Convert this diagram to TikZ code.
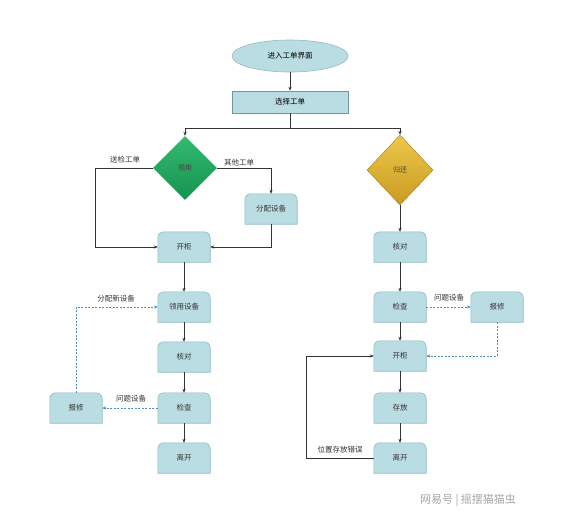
\documentclass[tikz,border=0pt]{standalone}
\usepackage{fontspec}
\setmainfont{Noto Sans CJK SC}
\usetikzlibrary{shapes.geometric,arrows.meta,backgrounds}
\definecolor{boxfill}{HTML}{B9DDE2}
\definecolor{boxline}{HTML}{8DBCC4}
\definecolor{dashc}{HTML}{4B8FC6}
\definecolor{lineC}{HTML}{333333}
\definecolor{gtop}{HTML}{33BB70}
\definecolor{gbot}{HTML}{15934F}
\definecolor{ytop}{HTML}{EDC74A}
\definecolor{ybot}{HTML}{C99A22}
\tikzset{
  tboxn/.style={minimum width=52pt,minimum height=30pt,inner sep=0pt,font=\fontsize{7.5}{9}\selectfont,text=black!80},
  boxshape/.style={fill=boxfill,draw=boxline,line width=0.6pt},
  arr/.style={draw=lineC,line width=0.7pt,-{Stealth[length=4pt,width=3.2pt]}},
  darr/.style={draw=dashc,line width=0.7pt,dash pattern=on 2pt off 1.5pt,-{Stealth[length=4pt,width=3.2pt]}},
  lbl/.style={font=\fontsize{7.5}{9}\selectfont,text=black!80,inner sep=1pt},
  dia/.style={diamond,aspect=1,inner sep=0pt,font=\fontsize{7}{8}\selectfont,text=black!75}
}
\begin{document}
\begin{tikzpicture}[x=1pt,y=-1pt]
\useasboundingbox (0,0) rectangle (580,523);
% top
\node[ellipse,minimum width=116pt,minimum height=32pt,fill=boxfill,draw=boxline,line width=0.6pt,font=\fontsize{7.5}{9}\selectfont] (start) at (290,56) {进入工单界面};
\node[minimum width=116pt,minimum height=22pt,fill=boxfill,draw=boxline!80!black,line width=0.6pt,font=\fontsize{7.5}{9}\selectfont] (sel) at (290,102) {选择工单};
\node[dia,minimum width=64pt,minimum height=64pt,top color=gtop,bottom color=gbot] (lend) at (185,168) {领用};
\node[dia,minimum width=66pt,minimum height=70pt,top color=ytop,bottom color=ybot,draw=ybot!80!black,line width=0.4pt] (ret) at (400,170) {归还};
% left column
\node[tboxn] (kg1) at (184,247) {开柜};
\node[tboxn] (fp) at (271,209) {分配设备};
\node[tboxn] (ly) at (184,307) {领用设备};
\node[tboxn] (hd1) at (184,357) {核对};
\node[tboxn] (jc1) at (184,408) {检查};
\node[tboxn] (lk1) at (184,458) {离开};
\node[tboxn] (bx1) at (76,408) {报修};
% right column
\node[tboxn] (hd2) at (400,247) {核对};
\node[tboxn] (jc2) at (400,307) {检查};
\node[tboxn] (bx2) at (497,307) {报修};
\node[tboxn] (kg2) at (400,356) {开柜};
\node[tboxn] (cf) at (400,408) {存放};
\node[tboxn] (lk2) at (400,458) {离开};
% labels
\node[lbl] (t1) at (125,160) {送检工单};
\node[lbl] (t2) at (239,163) {其他工单};
\node[lbl] (t3) at (116,299) {分配新设备};
\node[lbl] (t4) at (131,399) {问题设备};
\node[lbl] (t5) at (449,298) {问题设备};
\node[lbl] (t6) at (340,450) {位置存放错误};
\node[font=\fontsize{11}{13}\selectfont,text=black!35] (ft) at (468,500) {网易号 | 摇摆猫猫虫};
% connectors
\draw[arr] (start.south) -- (sel.north);
\draw[arr] (sel.south) -- ++(0,15) -| (lend.north);
\draw[arr] (sel.south) -- ++(0,15) -| (ret.north);
\draw[arr] (lend.west) -- ++(-57,0) |- (kg1.west);
\draw[arr] (lend.east) -| (fp.north);
\draw[arr] (fp.south) |- (kg1.east);
\draw[arr] (kg1.south) -- (ly.north);
\draw[arr] (ly.south) -- (hd1.north);
\draw[arr] (hd1.south) -- (jc1.north);
\draw[arr] (jc1.south) -- (lk1.north);
\draw[darr] (jc1.west) -- (bx1.east);
\draw[darr] (bx1.north) |- (ly.west);
\draw[arr] (ret.south) -- (hd2.north);
\draw[arr] (hd2.south) -- (jc2.north);
\draw[arr] (jc2.south) -- (kg2.north);
\draw[arr] (kg2.south) -- (cf.north);
\draw[arr] (cf.south) -- (lk2.north);
\draw[darr] (jc2.east) -- (bx2.west);
\draw[darr] (bx2.south) |- (kg2.east);
\draw[arr] (lk2.west) -- ++(-67,0) |- (kg2.west);
\begin{scope}[on background layer]
\fill[white] (0,0) rectangle (580,523);
\foreach \n in {kg1,fp,ly,hd1,jc1,lk1,bx1,hd2,jc2,bx2,kg2,cf,lk2}
  \draw[boxshape] (\n.south west) [rounded corners=6pt] -- (\n.north west) -- (\n.north east) [sharp corners] -- (\n.south east) -- cycle;
\end{scope}
\end{tikzpicture}
\end{document}
